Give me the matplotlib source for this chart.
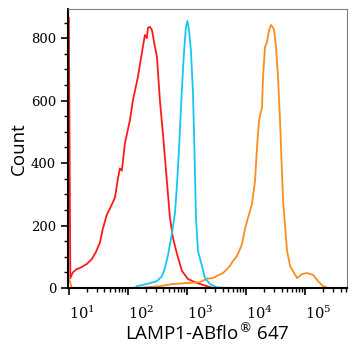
import matplotlib
matplotlib.use("Agg")
import matplotlib.pyplot as plt
from matplotlib.ticker import MultipleLocator, LogLocator, NullFormatter
import numpy as np

# readings: log10(intensity) and event counts
red_log = [1.00, 1.025, 1.068, 1.136, 1.186, 1.305, 1.390, 1.458, 1.525, 1.576, 1.644, 1.695,
           1.780, 1.831, 1.864, 1.898, 1.949, 2.034, 2.085, 2.169, 2.254, 2.288, 2.322, 2.339,
           2.373, 2.407, 2.458, 2.492, 2.542, 2.593, 2.661, 2.712, 2.763, 2.831, 2.915, 3.017,
           3.169, 3.339, 3.441, 5.71]
red_count = [865, 32, 50, 61, 64, 77, 93, 115, 145, 190, 235, 254,
             289, 350, 383, 376, 463, 537, 601, 675, 772, 810, 800, 833,
             836, 826, 772, 740, 601, 495, 340, 225, 161, 109, 55, 29,
             16, 6, 0, 0]

cyan_log = [2.119, 2.153, 2.322, 2.492, 2.576, 2.627, 2.678, 2.746, 2.797, 2.831, 2.864, 2.915,
            2.949, 2.983, 3.008, 3.034, 3.068, 3.102, 3.127, 3.153, 3.186, 3.254, 3.305, 3.390,
            3.508, 3.729, 5.71]
cyan_count = [0, 6, 13, 22, 38, 64, 105, 174, 240, 330, 440, 640,
              752, 836, 855, 826, 760, 624, 440, 225, 119, 71, 32, 13,
              2, 0, 0]

orange_log = [1.00, 1.051, 2.153, 2.542, 2.763, 3.000, 3.220, 3.339, 3.441, 3.508, 3.610, 3.678,
              3.729, 3.780, 3.847, 3.898, 3.932, 3.983, 4.034, 4.102, 4.153, 4.186, 4.220, 4.271,
              4.288, 4.322, 4.356, 4.390, 4.424, 4.458, 4.475, 4.508, 4.542, 4.576, 4.593, 4.627,
              4.695, 4.746, 4.864, 4.949, 5.034, 5.136, 5.220, 5.305, 5.390, 5.71]
orange_count = [32, 0, 0, 6, 13, 16, 19, 30, 32, 39, 48, 61,
                71, 87, 103, 125, 141, 190, 225, 270, 344, 450, 537, 579,
                675, 772, 788, 826, 842, 833, 826, 772, 675, 537, 450, 280,
                119, 71, 32, 45, 48, 42, 22, 6, 0, 0]

x_ticks = [10, 100, 1000, 10000, 100000]
x_tick_labels = [r"$10^{1}$", r"$10^{2}$", r"$10^{3}$", r"$10^{4}$", r"$10^{5}$"]
y_ticks = [0, 200, 400, 600, 800]

plt.rcParams["mathtext.fontset"] = "custom"
plt.rcParams["mathtext.rm"] = "DejaVu Serif"
plt.rcParams["mathtext.it"] = "DejaVu Serif"
plt.rcParams["mathtext.bf"] = "DejaVu Serif"

fig = plt.figure(figsize=(3.57, 3.5), dpi=100)
ax = fig.add_axes([0.19, 0.177, 0.782, 0.797])

ax.plot(10 ** np.array(red_log), red_count, color="#FF1A1A", lw=1.3)
ax.plot(10 ** np.array(orange_log), orange_count, color="#FF8C1E", lw=1.3)
ax.plot(10 ** np.array(cyan_log), cyan_count, color="#14C8F5", lw=1.3)

ax.set_xscale("log")
ax.set_xlim(10 ** 0.983, 10 ** 5.71)
ax.set_ylim(0, 893)

ax.set_xticks(x_ticks)
ax.set_xticklabels(x_tick_labels, ha="left", fontsize=10.5)
ax.xaxis.set_minor_locator(LogLocator(base=10, subs=np.arange(2, 10)))
ax.xaxis.set_minor_formatter(NullFormatter())

ax.set_yticks(y_ticks)
ax.set_yticklabels([str(v) for v in y_ticks], family="DejaVu Serif", fontsize=9.5)
ax.yaxis.set_minor_locator(MultipleLocator(50))

ax.tick_params(which="major", direction="out", length=5, width=1.2, color="black")
ax.tick_params(which="minor", direction="out", length=3, width=1.0, color="black")
ax.tick_params(axis="x", which="major", pad=7)

ax.spines["left"].set_linewidth(1.5)
ax.spines["bottom"].set_linewidth(1.5)
ax.spines["top"].set_color("#808080")
ax.spines["right"].set_color("#808080")

ax.set_ylabel("Count", family="Open Sans", fontsize=13.5, labelpad=2)
ax.set_xlabel(r"LAMP1-ABflo$^{\circledR}$ 647", family="Open Sans", fontsize=13.5, labelpad=1)

fig.savefig("out.png", dpi=100)
plt.close(fig)
